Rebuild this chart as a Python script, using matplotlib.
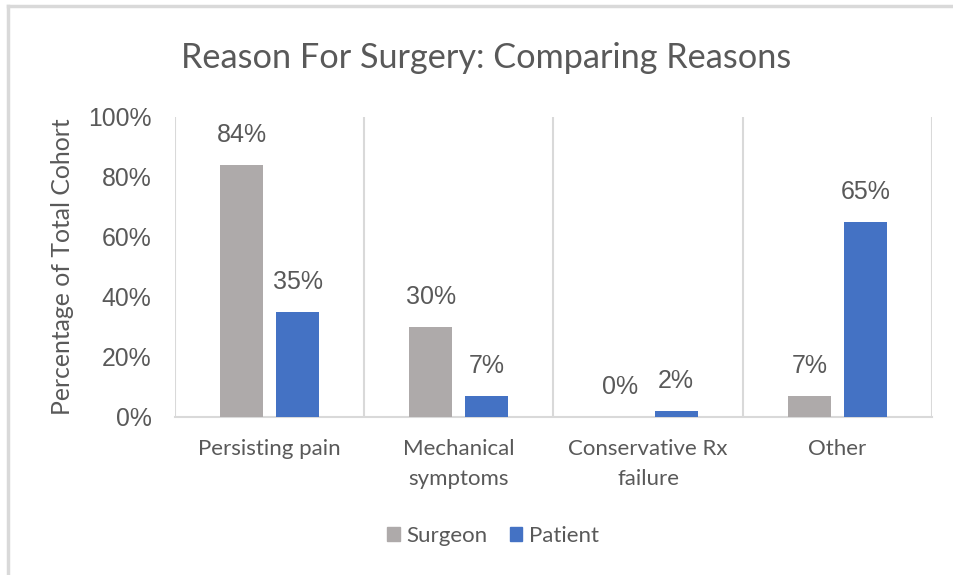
import matplotlib
matplotlib.use("Agg")
import matplotlib.pyplot as plt
import numpy as np
from matplotlib.patches import Rectangle
from matplotlib.lines import Line2D

categories = ["Persisting pain", "Mechanical\nsymptoms", "Conservative Rx\nfailure", "Other"]
surgeon = [84, 30, 0, 7]
patient = [35, 7, 2, 65]
series_names = ["Surgeon", "Patient"]
yticks = [0, 20, 40, 60, 80, 100]

TEXT = "#595959"
GRAY = "#AEAAAA"
BLUE = "#4472C4"
LINE = "#D9D9D9"
CAL = ["Lato", "DejaVu Sans"]
ARIAL = ["Liberation Sans", "DejaVu Sans"]

fig = plt.figure(figsize=(9.54, 5.75), dpi=100)
ax = fig.add_axes([175 / 954, 1 - 417 / 575, (932 - 175) / 954, 300 / 575])

x = np.arange(len(categories))
w = 0.227
off = 0.148
b1 = ax.bar(x - off, surgeon, w, color=GRAY, zorder=3)
b2 = ax.bar(x + off, patient, w, color=BLUE, zorder=3)

for bars, vals in ((b1, surgeon), (b2, patient)):
    for r, v in zip(bars, vals):
        ax.annotate(f"{v}%", (r.get_x() + r.get_width() / 2, v),
                    xytext=(0, 30), textcoords="offset pixels",
                    ha="center", va="center", fontsize=18,
                    color=TEXT, family=ARIAL)

ax.set_xlim(-0.5, len(categories) - 0.5)
ax.set_ylim(0, 100)
ax.set_yticks(yticks)
ax.set_yticklabels([f"{t}%" for t in yticks], family=ARIAL, fontsize=17.8, color=TEXT)
ax.tick_params(axis="y", length=0, pad=17)

ax.set_xticks(x)
ax.set_xticklabels(categories, family=CAL, fontsize=16, color=TEXT, linespacing=1.6)
ax.tick_params(axis="x", length=0, pad=16)

# vertical separators between categories
for s in np.arange(-0.5, len(categories), 1.0):
    ax.axvline(s, color=LINE, lw=1.5, zorder=1)

for sp in ("top", "right", "left"):
    ax.spines[sp].set_visible(False)
ax.spines["bottom"].set_color(LINE)
ax.spines["bottom"].set_linewidth(1.5)

ax.set_ylabel("Percentage of Total Cohort", family=CAL, fontsize=17.8,
              color=TEXT, labelpad=10)

fig.text(486 / 954, 1 - 58 / 575, "Reason For Surgery: Comparing Reasons",
         ha="center", va="center", family=CAL, fontsize=24.7, color=TEXT)

handles = [Rectangle((0, 0), 1, 1, color=GRAY), Rectangle((0, 0), 1, 1, color=BLUE)]
fig.legend(handles, series_names, loc="center", bbox_to_anchor=(493 / 954, 1 - 536 / 575),
           ncol=2, frameon=False, prop={"family": CAL, "size": 16},
           labelcolor=TEXT, handlelength=0.55, handleheight=0.55,
           handletextpad=0.3, columnspacing=1.0)

# outer frame (top and left edges visible)
fig.add_artist(Line2D([8 / 954, 1], [1 - 6 / 575] * 2, color=LINE, lw=2.5,
                      transform=fig.transFigure))
fig.add_artist(Line2D([8 / 954] * 2, [0, 1 - 6 / 575], color=LINE, lw=2.5,
                      transform=fig.transFigure))

fig.savefig("out.png", dpi=100)
